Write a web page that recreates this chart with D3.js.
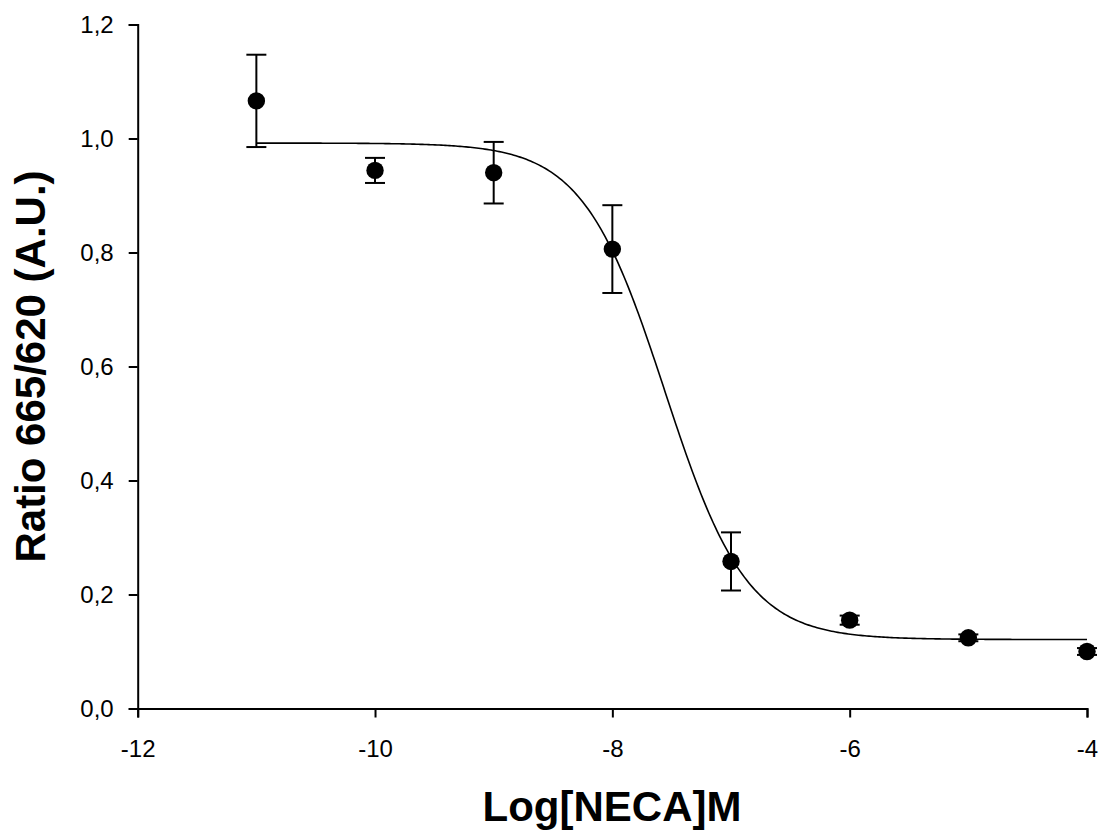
<!DOCTYPE html>
<html><head><meta charset="utf-8">
<script src="https://cdn.jsdelivr.net/npm/d3@7"></script>
<style>
html,body{margin:0;padding:0;background:#fff;}
svg{display:block;font-family:"Liberation Sans",Arial,sans-serif;}
</style></head>
<body>
<svg id="chart" width="1102" height="834"></svg>
<script>
// Data
const logConc = [-11, -10, -9, -8, -7, -6, -5, -4];
const ratioMean = [1.066, 0.944, 0.940, 0.806, 0.258, 0.155, 0.124, 0.100];
const ratioErr = [0.081, 0.022, 0.054, 0.077, 0.051, 0.008, 0.006, 0.006];
// Four-parameter logistic fit shown as the line
const fitTop = 0.992, fitBottom = 0.121, fitLogEC50 = -7.557, fitHill = 1.258;
const fitRange = [-11, -4];
const xTicks = [-12, -10, -8, -6, -4];
const yTicks = [0, 0.2, 0.4, 0.6, 0.8, 1.0, 1.2];

const svg = d3.select("#chart");
const x = d3.scaleLinear().domain([-12, -4]).range([137.7, 1087]);
const y = d3.scaleLinear().domain([0, 1.2]).range([708.5, 24.5]);

const fmtY = v => v.toFixed(1).replace(".", ",");
const fmtX = v => String(v);

const xAxis = svg.append("g").attr("transform", "translate(0,708.5)")
  .call(d3.axisBottom(x).tickValues(xTicks).tickSizeOuter(0).tickSize(9).tickPadding(22.5).tickFormat(fmtX));
const yAxis = svg.append("g").attr("transform", "translate(137.7,0)")
  .call(d3.axisLeft(y).tickValues(yTicks).tickSizeOuter(0).tickSize(9).tickPadding(15).tickFormat(fmtY));
[xAxis, yAxis].forEach(g => {
  g.selectAll("path.domain").attr("stroke", "#000").attr("stroke-width", 2);
  g.selectAll(".tick line").attr("stroke", "#000").attr("stroke-width", 2);
  g.selectAll(".tick text").attr("fill", "#000").style("font-size", "24px").style("font-family", "Liberation Sans, Arial, sans-serif");
});
xAxis.selectAll(".tick text").attr("dy", "0.71em");

// Fit curve
const curvePts = d3.range(0, 401).map(i => {
  const lx = fitRange[0] + (fitRange[1] - fitRange[0]) * i / 400;
  return [lx, fitBottom + (fitTop - fitBottom) / (1 + Math.pow(10, (lx - fitLogEC50) * fitHill))];
});
svg.append("path").datum(curvePts)
  .attr("fill", "none").attr("stroke", "#000").attr("stroke-width", 1.6)
  .attr("d", d3.line().x(d => x(d[0])).y(d => y(d[1])));

const pts = logConc.map((c, i) => ({c, m: ratioMean[i], e: ratioErr[i]}));
const eb = svg.append("g").attr("stroke", "#000").attr("stroke-width", 2);
pts.forEach(p => {
  eb.append("line").attr("x1", x(p.c)).attr("x2", x(p.c)).attr("y1", y(p.m + p.e)).attr("y2", y(p.m - p.e));
  [p.m + p.e, p.m - p.e].forEach(v => {
    eb.append("line").attr("x1", x(p.c) - 10).attr("x2", x(p.c) + 10).attr("y1", y(v)).attr("y2", y(v));
  });
});
svg.append("g").selectAll("circle").data(pts).join("circle")
  .attr("cx", d => x(d.c)).attr("cy", d => y(d.m)).attr("r", 8.7).attr("fill", "#000");

svg.append("text").attr("x", 612).attr("y", 821).attr("text-anchor", "middle")
  .style("font-size", "42px").style("font-weight", "bold").text("Log[NECA]M");
svg.append("text").attr("transform", "translate(45,366.5) rotate(-90)").attr("text-anchor", "middle")
  .style("font-size", "42px").style("font-weight", "bold").text("Ratio 665/620 (A.U.)");
</script>
</body></html>
